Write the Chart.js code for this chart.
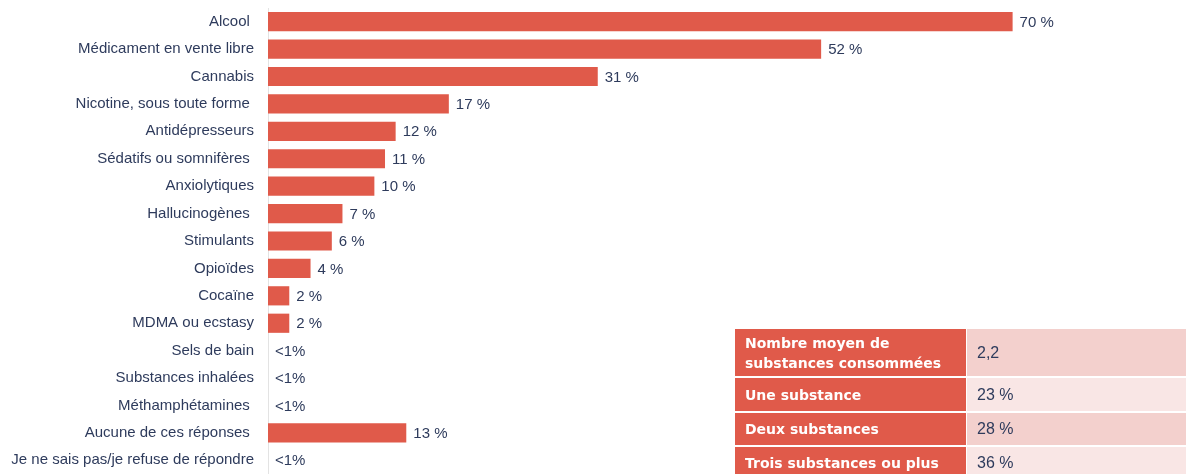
<!DOCTYPE html>
<html lang="fr">
<head>
<meta charset="utf-8">
<script src="https://cdn.jsdelivr.net/npm/chart.js@4"></script>
<style>
  html, body { margin: 0; padding: 0; background: #fff; }
  #wrap { position: relative; width: 1186px; height: 474px; overflow: hidden; }
  #wrap canvas { position: absolute; left: 0; top: 0; }
  .tbl { position: absolute; left: 735px; top: 329px; width: 460px; }
  .row { position: absolute; left: 0; display: flex; width: 460px; }
  .row .k { width: 231px; background: #e05a4a; color: #fff; font-weight: bold; box-sizing: border-box;
            padding: 0 4px 0 10px; display: flex; align-items: center; line-height: 20px;
            font-family: "DejaVu Sans", sans-serif; font-size: 14px; }
  .row .v { flex: 1; margin-left: 1px; color: #2e3b5c; box-sizing: border-box; padding-left: 10px;
            display: flex; align-items: center; font-family: "Liberation Sans", Arial, sans-serif; font-size: 16px; }
  .row.a .v { background: #f3d0cd; }
  .row.b .v { background: #f9e6e5; }
</style>
</head>
<body>
<div id="wrap">
  <canvas id="chart" width="1186" height="474"></canvas>
  <div class="tbl" id="tbl"></div>
</div>
<script>
// ─── Données ──────────────────────────────────────────────────────────────────
const categories = [
  'Alcool ', 'Médicament en vente libre', 'Cannabis', 'Nicotine, sous toute forme ',
  'Antidépresseurs', 'Sédatifs ou somnifères ', 'Anxiolytiques', 'Hallucinogènes ',
  'Stimulants', 'Opioïdes', 'Cocaïne', 'MDMA ou ecstasy', 'Sels de bain',
  'Substances inhalées', 'Méthamphétamines ', 'Aucune de ces réponses ',
  'Je ne sais pas/je refuse de répondre'
];
const values = [70, 52, 31, 17, 12, 11, 10, 7, 6, 4, 2, 2, 0, 0, 0, 13, 0];
const valueLabels = [
  '70 %', '52 %', '31 %', '17 %', '12 %', '11 %', '10 %', '7 %', '6 %', '4 %',
  '2 %', '2 %', '<1%', '<1%', '<1%', '13 %', '<1%'
];

const tableLabels = ['Nombre moyen de<br>substances consommées', 'Une substance', 'Deux substances', 'Trois substances ou plus'];
const tableValues = ['2,2', '23 %', '28 %', '36 %'];

const RED = '#e05a4a';
const TEXT = '#2e3b5c';
const FONT = "'Liberation Sans', Arial, sans-serif";

// étiquettes de valeur à droite des barres
const valueLabelPlugin = {
  id: 'valueLabels',
  afterDatasetsDraw(chart) {
    const { ctx } = chart;
    const meta = chart.getDatasetMeta(0);
    ctx.save();
    ctx.font = `15px ${FONT}`;
    ctx.fillStyle = TEXT;
    ctx.textAlign = 'left';
    ctx.textBaseline = 'middle';
    meta.data.forEach((bar, i) => {
      ctx.fillText(valueLabels[i], bar.x + 7, bar.y + 1);
    });
    ctx.restore();
  }
};

new Chart(document.getElementById('chart'), {
  type: 'bar',
  data: {
    labels: categories,
    datasets: [{
      data: values,
      backgroundColor: RED,
      borderWidth: 0,
      barPercentage: 0.7,
      categoryPercentage: 1
    }]
  },
  options: {
    indexAxis: 'y',
    responsive: false,
    animation: false,
    layout: { padding: { top: 8, right: 0, bottom: 0, left: 0 } },
    plugins: { legend: { display: false }, tooltip: { enabled: false } },
    scales: {
      x: { display: false, min: 0, max: 86.3 },
      y: {
        grid: { display: false, drawTicks: false },
        border: { display: true, color: '#e3e3e3', width: 1 },
        ticks: { color: TEXT, font: { family: FONT, size: 15 }, padding: 14, autoSkip: false },
        afterFit: s => { s.width = 268; s.paddingTop = 0; s.paddingBottom = 0; }
      }
    }
  },
  plugins: [valueLabelPlugin]
});

// ─── Tableau ──────────────────────────────────────────────────────────────────
const rowTops = [0, 49, 84, 118];
const rowHeights = [47, 33, 32, 32];
const tbl = document.getElementById('tbl');
tableLabels.forEach((lab, i) => {
  const row = document.createElement('div');
  row.className = 'row ' + (i % 2 === 0 ? 'a' : 'b');
  row.style.top = rowTops[i] + 'px';
  row.style.height = rowHeights[i] + 'px';
  row.innerHTML = `<div class="k">${lab}</div><div class="v">${tableValues[i]}</div>`;
  tbl.appendChild(row);
});
</script>
</body>
</html>
